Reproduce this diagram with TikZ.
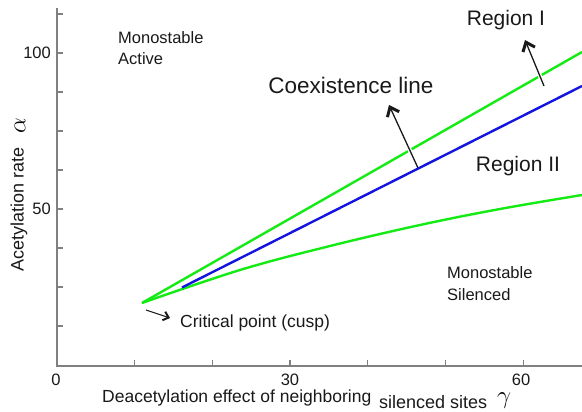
\documentclass[tikz,border=0pt]{standalone}
\usepackage{fontspec}
\setmainfont{Liberation Sans}
\usetikzlibrary{arrows.meta}
\definecolor{lgreen}{RGB}{20,235,20}
\definecolor{lblue}{RGB}{20,20,225}
\definecolor{axisgray}{RGB}{128,128,128}
\tikzset{
  axisline/.style={draw=axisgray, line width=1.5pt},
  tickline/.style={draw=axisgray, line width=1.2pt},
  greenline/.style={draw=lgreen, line width=2.4pt},
  blueline/.style={draw=lblue, line width=2.4pt},
  ptr/.style={draw=black!90, line width=1.3pt, -{Straight Barb[length=8pt,width=13pt,line width=3pt]},
    preaction={draw=white, line width=4pt, -}},
  smallptr/.style={draw=black!90, line width=1.1pt, -{Straight Barb[length=5pt,width=9pt,line width=2pt]}},
  lbl/.style={inner sep=0pt, text=black!90, font=\fontsize{16.5}{20}\selectfont},
  biglbl/.style={inner sep=0pt, text=black!90, font=\fontsize{21}{24}\selectfont},
  ticklbl/.style={inner sep=0pt, text=black!90, font=\fontsize{16.5}{20}\selectfont},
}
\begin{document}
\begin{tikzpicture}[x=1pt,y=-1pt]
\useasboundingbox (0,0) rectangle (582,412);
% axes
\coordinate (ytop) at (57,8);
\coordinate (orig) at (57,366);
\coordinate (xend) at (582,366);
\draw[axisline] (ytop) -- (orig) -- (xend);
\foreach \yy in {14,53,92,131,170,209,248,287,326}
  \draw[tickline] (57,\yy) -- (63,\yy);
\foreach \xx in {134.7,212.4,290,367.8,445.5,523.2}
  \draw[tickline] (\xx,366) -- (\xx,360);
% tick labels
\node[ticklbl, anchor=east] (t100) at (51,53) {100};
\node[ticklbl, anchor=east] (t50) at (51,209) {50};
\node[ticklbl] (t0) at (56,380) {0};
\node[ticklbl] (t30) at (290,380) {30};
\node[ticklbl] (t60) at (521,380) {60};
% curves
\coordinate (cusp) at (142,303);
\coordinate (upend) at (582,52);
\coordinate (blstart) at (182,287.5);
\coordinate (blend) at (582,86);
\draw[greenline] (cusp) -- (upend);
\draw[greenline] plot[smooth, tension=0.6] coordinates {(142,303) (240,270) (330,246) (420,225) (500,209) (582,195)};
% arrows
\coordinate (a1s) at (544,86);
\coordinate (a1e) at (525,40);
\coordinate (a2s) at (418,168);
\coordinate (a2e) at (389,105);
\coordinate (a3s) at (146,310);
\coordinate (a3e) at (170,318);
\draw[ptr] (a1s) -- (a1e);
\draw[ptr] (a2s) -- (a2e);
\draw[smallptr] (a3s) -- (a3e);
\draw[blueline] (blstart) -- (blend);
% labels
\node[lbl, anchor=west] (ma1) at (118,38) {Monostable};
\node[lbl, anchor=west] (ma2) at (118,59) {Active};
\node[lbl, anchor=west] (ms1) at (447,273) {Monostable};
\node[lbl, anchor=west] (ms2) at (447,295) {Silenced};
\node[biglbl, font=\fontsize{22.5}{25}\selectfont] (coex) at (351,85) {Coexistence line};
\node[biglbl] (r1) at (506,20) {Region I};
\node[biglbl] (r2) at (518,166) {Region II};
\node[lbl, anchor=west, font=\fontsize{17.5}{20}\selectfont] (crit) at (180,323) {Critical point (cusp)};
% axis labels
\node[lbl, anchor=west, font=\fontsize{17.5}{20}\selectfont] (xl1) at (102,398) {Deacetylation effect of neighboring};
\node[lbl, anchor=west, font=\fontsize{18}{20}\selectfont] (xl2) at (379,402) {silenced sites};
\node[inner sep=0pt, font=\fontsize{26}{28}\selectfont] (gam) at (504,401) {$\gamma$};
\node[lbl, rotate=90, font=\fontsize{18}{20}\selectfont] (yl) at (19,209) {Acetylation rate};
\node[inner sep=0pt, rotate=90, font=\fontsize{24}{28}\selectfont] (alp) at (20,126) {$\alpha$};
\end{tikzpicture}
\end{document}
